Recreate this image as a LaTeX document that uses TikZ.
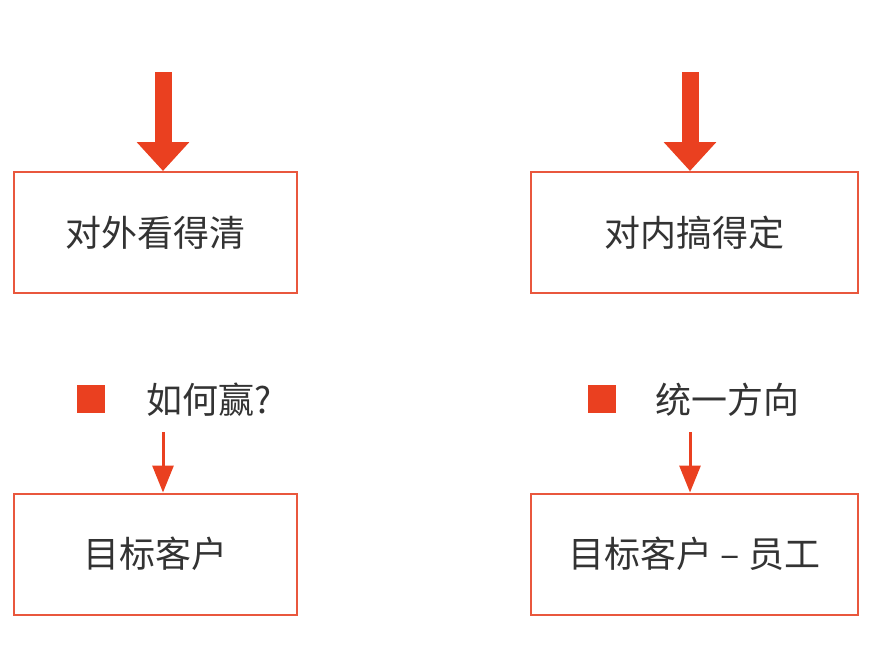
\documentclass[tikz,border=0pt]{standalone}
\usepackage{fontspec}
\setmainfont{Noto Sans CJK SC}
\usetikzlibrary{arrows.meta}
\definecolor{boxred}{HTML}{E9573D}
\definecolor{arrred}{HTML}{EA4020}
\definecolor{txtgray}{HTML}{333333}
\tikzset{
    mainbox/.style={draw=boxred, line width=2pt, minimum height=121pt, inner sep=0pt,
        text=txtgray, font=\fontsize{36}{40}\selectfont},
    bigarrow/.style={arrred, line width=17pt, -{Triangle[width=51pt,length=29pt]}},
    smallarrow/.style={arrred, line width=3pt, -{Triangle[width=21pt,length=27pt]}},
    bulletsq/.style={fill=arrred, minimum size=28pt, inner sep=0pt},
    bullettext/.style={anchor=west, inner sep=0pt, text=txtgray, font=\fontsize{36}{40}\selectfont}
}
\begin{document}
\begin{tikzpicture}[x=1pt, y=-1pt]%% two columns
    \useasboundingbox (0, 0) rectangle (885, 670);

        % left column
        \node[mainbox, minimum width=283pt] (outer) at (155.5, 232.5){对外看得清};
        \coordinate (outertop) at (163, 72);
        \draw[bigarrow] (outertop) to (outer.north -| outertop);
            \node[bulletsq] (sqleft) at (91, 399){};
            \node[bullettext] (howwin) at (146, 400){如何赢?};
        \node[mainbox, minimum width=283pt] (client) at (155.5, 554){目标客户};
        \coordinate (clienttop) at (163, 432);
        \draw[smallarrow] (clienttop) to (client.north -| clienttop);

        % right column
        \node[mainbox, minimum width=327pt] (inner) at (694.5, 232.5){对内搞得定};
        \coordinate (innertop) at (690, 72);
        \draw[bigarrow] (innertop) to (inner.north -| innertop);
            \node[bulletsq] (sqright) at (602, 399){};
            \node[bullettext] (onedir) at (655, 400){统一方向};
        \node[mainbox, minimum width=327pt] (staff) at (694.5, 554){目标客户 – 员工};
        \coordinate (stafftop) at (690, 432);
        \draw[smallarrow] (stafftop) to (staff.north -| stafftop);

\end{tikzpicture}
\end{document}
